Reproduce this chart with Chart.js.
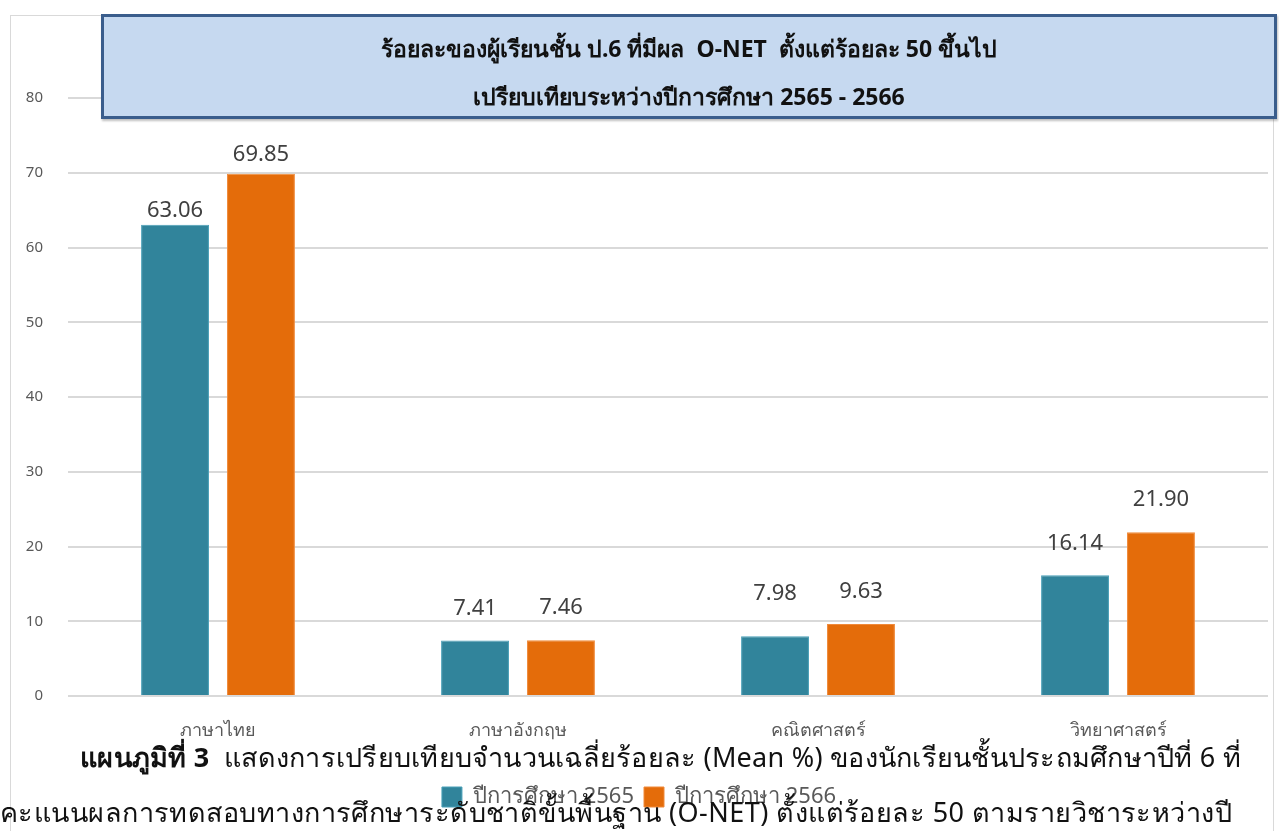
<!DOCTYPE html>
<html>
<head>
<meta charset="utf-8">
<script src="https://cdn.jsdelivr.net/npm/chart.js@4.4.0/dist/chart.umd.min.js"></script>
<style>
  html, body { margin: 0; padding: 0; background: #fff; }
  #wrap { position: relative; width: 1279px; height: 831px; overflow: hidden; }
  #frame { position: absolute; left: 10px; top: 15px; width: 1262px; height: 830px; border: 1px solid #d9d9d9; }
  #chart { position: absolute; left: 0; top: 0; }
  #titleBox {
    position: absolute; left: 101px; top: 14px; width: 1170px; height: 99px;
    background: #c6d9f0; border: 3px solid #3a5d8c;
    box-shadow: 1px 2px 2px rgba(0,0,0,0.25);
    font-family: "Noto Sans", sans-serif; font-weight: bold; font-size: 23px; color: #111;
    text-align: center;
  }
  #titleBox div { position: absolute; left: 0; right: 0; }
  .caption { position: absolute; font-family: "Noto Sans", sans-serif; font-size: 27px; letter-spacing: 0.3px; color: #111; white-space: nowrap; }
</style>
</head>
<body>
<div id="wrap">
  <div id="frame"></div>
  <canvas id="chart" width="1279" height="831"></canvas>
  <div id="titleBox">
    <div style="top:14px">ร้อยละของผู้เรียนชั้น ป.6 ที่มีผล&nbsp; O-NET&nbsp; ตั้งแต่ร้อยละ 50 ขึ้นไป</div>
    <div style="top:62px">เปรียบเทียบระหว่างปีการศึกษา 2565 - 2566</div>
  </div>
  <div class="caption" style="left:80px; top:736px; letter-spacing:0.25px;"><b>แผนภูมิที่ 3</b>&nbsp; แสดงการเปรียบเทียบจำนวนเฉลี่ยร้อยละ (Mean %) ของนักเรียนชั้นประถมศึกษาปีที่ 6 ที่</div>
  <div class="caption" style="left:0px; top:791px; letter-spacing:0.45px;">คะแนนผลการทดสอบทางการศึกษาระดับชาติขั้นพื้นฐาน (O-NET) ตั้งแต่ร้อยละ 50 ตามรายวิชาระหว่างปี</div>
</div>
<script>
const subjects = ['ภาษาไทย', 'ภาษาอังกฤษ', 'คณิตศาสตร์', 'วิทยาศาสตร์'];
const year2565 = [63.06, 7.41, 7.98, 16.14];
const year2566 = [69.85, 7.46, 9.63, 21.90];
const yTicks = [0, 10, 20, 30, 40, 50, 60, 70, 80];

// gap in px between bar top and label baseline, per dataset / category (labels were nudged in the original)
const labelGap = [[8, 26, 36, 25], [13, 26, 26, 26]];

const valueLabels = {
    id: 'valueLabels',
    afterDatasetsDraw(chart) {
        const ctx = chart.ctx;
        ctx.save();
        ctx.font = '22px "Noto Sans", sans-serif';
        ctx.fillStyle = '#404040';
        ctx.textAlign = 'center';
        ctx.textBaseline = 'alphabetic';
        chart.data.datasets.forEach((ds, i) => {
            chart.getDatasetMeta(i).data.forEach((bar, j) => {
                ctx.fillText(ds.data[j].toFixed(2), bar.x, bar.y - labelGap[i][j]);
            });
        });
        ctx.restore();
    }
};

const ctx = document.getElementById('chart').getContext('2d');
new Chart(ctx, {
    type: 'bar',
    data: {
        labels: subjects,
        datasets: [
            {
                label: 'ปีการศึกษา 2565',
                data: year2565,
                backgroundColor: '#31849b',
                borderColor: '#4aa0b8',
                borderWidth: 1
            },
            {
                label: 'ปีการศึกษา 2566',
                data: year2566,
                backgroundColor: '#e46c0a',
                borderColor: '#f08a3a',
                borderWidth: 1
            }
        ]
    },
    options: {
        responsive: false,
        animation: false,
        categoryPercentage: 0.573,
        barPercentage: 0.79,
        layout: { padding: { left: 10, right: 11, top: 98, bottom: 13 } },
        plugins: {
            title: { display: false },
            tooltip: { enabled: false },
            legend: {
                display: true,
                position: 'bottom',
                labels: {
                    boxWidth: 20,
                    boxHeight: 20,
                    padding: 10,
                    color: '#595959',
                    font: { size: 22, family: '"Noto Sans", sans-serif' }
                }
            }
        },
        scales: {
            x: {
                grid: { display: false, drawTicks: false },
                border: { display: false },
                ticks: {
                    color: '#595959',
                    padding: 24,
                    font: { size: 18, family: '"Noto Sans", sans-serif' }
                },
                afterFit(scale) { scale.height = 80; }
            },
            y: {
                min: 0,
                max: 80,
                afterBuildTicks(scale) { scale.ticks = yTicks.map(v => ({ value: v })); },
                grid: { color: '#d9d9d9', lineWidth: 2, drawTicks: false },
                border: { display: false },
                ticks: {
                    color: '#595959',
                    padding: 25,
                    font: { size: 15, family: '"Noto Sans", sans-serif' }
                },
                afterFit(scale) { scale.width = 58; }
            }
        }
    },
    plugins: [valueLabels]
});
</script>
</body>
</html>
